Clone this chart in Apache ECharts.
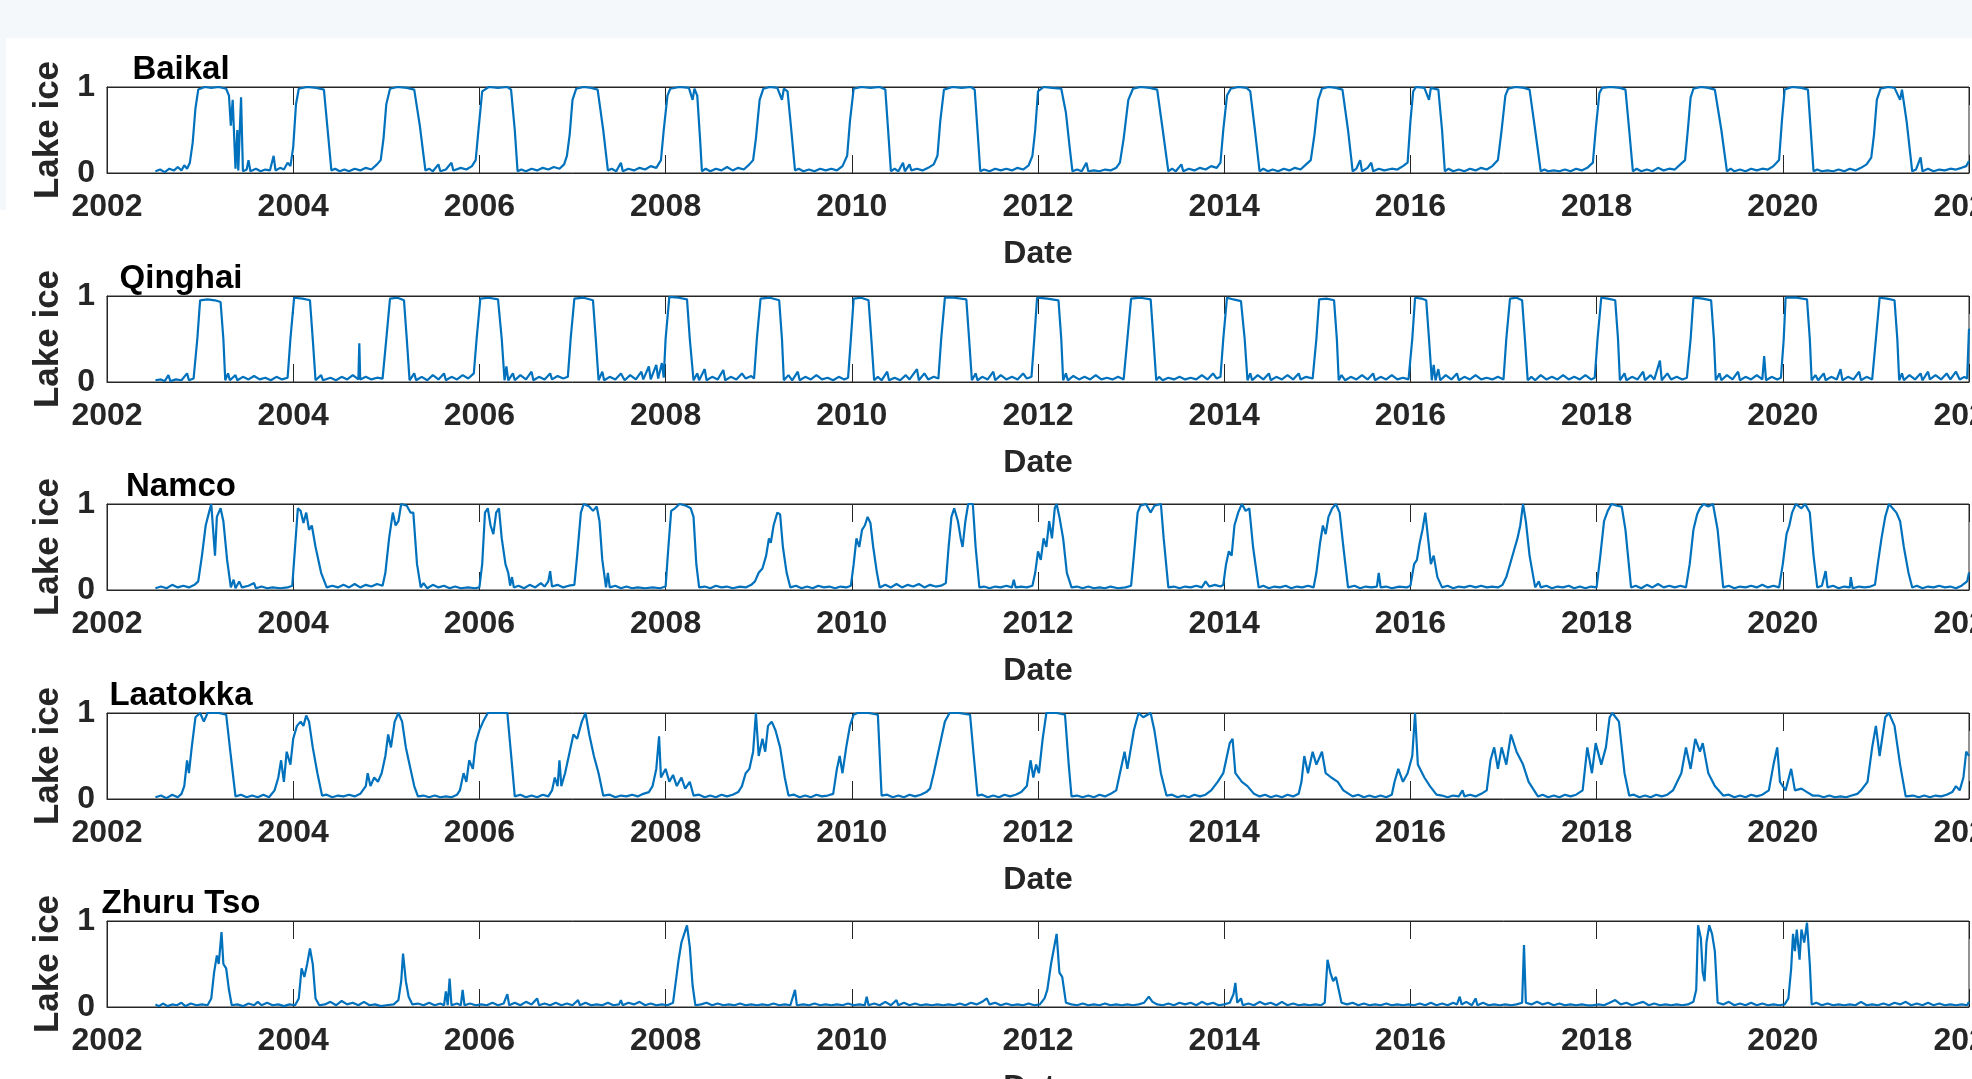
<!DOCTYPE html>
<html lang="en">
<head>
    <meta charset="UTF-8">
    <title>Lake ice</title>
    <script src="https://cdn.jsdelivr.net/npm/echarts@6/dist/echarts.min.js"></script>
    <style>
        html, body { margin: 0; padding: 0; background: #fff; }
        #lakes { width: 1972px; height: 1079px; }
    </style>
</head>
<body>
<div id="lakes"></div>
<script>
    // lake names, one panel each
    var lakeNames = ['Baikal', 'Qinghai', 'Namco', 'Laatokka', 'Zhuru Tso'];
    // x axis ticks (years)
    var yearMin = 2002, yearMax = 2022, yearStep = 2;

    // [decimal year, ice fraction]
    var baikal = [
        [2002.52,.02],[2002.57,.04],[2002.62,.01],[2002.67,.05],[2002.72,.03],[2002.76,.07],[2002.8,.03],[2002.83,.09],[2002.86,.05],[2002.89,.12],
        [2002.92,.35],[2002.95,.75],[2002.98,.97],[2003.05,1],[2003.12,.99],[2003.2,1],[2003.28,.98],[2003.31,.9],[2003.33,.55],[2003.35,.85],[2003.38,.05],[2003.4,.5],[2003.41,.03],[2003.44,.88],[2003.46,.02],
        [2003.5,.04],[2003.52,.15],[2003.54,.02],[2003.6,.05],[2003.65,.02],[2003.7,.04],[2003.75,.03],[2003.79,.2],[2003.81,.03],[2003.86,.06],[2003.9,.04],[2003.94,.12],[2003.97,.08],
        [2004.0,.3],[2004.03,.8],[2004.06,.98],[2004.15,1],[2004.25,.99],[2004.33,.97],[2004.37,.5],[2004.41,.03],
        [2004.45,.05],[2004.5,.02],[2004.55,.04],[2004.6,.02],[2004.66,.05],[2004.72,.03],[2004.78,.06],[2004.84,.04],[2004.9,.1],[2004.94,.15],
        [2004.97,.4],[2005.0,.8],[2005.04,.98],[2005.12,1],[2005.22,.99],[2005.3,.97],[2005.36,.55],[2005.42,.03],
        [2005.46,.05],[2005.5,.02],[2005.56,.1],[2005.58,.02],[2005.64,.04],[2005.7,.12],[2005.72,.03],[2005.8,.06],[2005.86,.04],[2005.92,.08],[2005.96,.15],
        [2005.99,.5],[2006.03,.95],[2006.1,1],[2006.2,.99],[2006.3,1],[2006.34,.97],[2006.38,.5],[2006.41,.02],
        [2006.45,.04],[2006.5,.02],[2006.56,.05],[2006.62,.03],[2006.68,.06],[2006.74,.04],[2006.8,.07],[2006.86,.05],[2006.91,.1],[2006.94,.2],
        [2006.97,.45],[2007.0,.85],[2007.04,.98],[2007.12,1],[2007.2,.99],[2007.27,.97],[2007.33,.5],[2007.38,.03],
        [2007.42,.05],[2007.47,.02],[2007.52,.12],[2007.54,.02],[2007.6,.05],[2007.66,.03],[2007.72,.06],[2007.78,.04],[2007.84,.08],[2007.9,.06],[2007.95,.15],
        [2007.98,.5],[2008.02,.9],[2008.05,.98],[2008.15,1],[2008.25,.99],[2008.29,.85],[2008.31,.98],[2008.34,.9],[2008.37,.4],[2008.39,.02],
        [2008.43,.05],[2008.48,.02],[2008.54,.05],[2008.6,.03],[2008.66,.07],[2008.72,.03],[2008.78,.06],[2008.84,.04],[2008.9,.1],[2008.94,.15],
        [2008.97,.4],[2009.01,.85],[2009.05,.98],[2009.12,1],[2009.2,.99],[2009.25,.85],[2009.27,.98],[2009.31,.95],[2009.35,.5],[2009.39,.03],
        [2009.43,.05],[2009.48,.02],[2009.54,.04],[2009.6,.02],[2009.66,.05],[2009.72,.03],[2009.78,.05],[2009.84,.03],[2009.9,.08],[2009.95,.2],
        [2009.98,.6],[2010.02,.98],[2010.1,1],[2010.2,.99],[2010.3,1],[2010.36,.97],[2010.39,.5],[2010.42,.02],
        [2010.46,.05],[2010.5,.02],[2010.55,.12],[2010.57,.02],[2010.62,.1],[2010.64,.03],[2010.7,.05],[2010.76,.03],[2010.82,.06],[2010.88,.1],[2010.92,.2],
        [2010.95,.6],[2010.99,.97],[2011.08,1],[2011.18,.99],[2011.28,1],[2011.32,.97],[2011.35,.5],[2011.38,.02],
        [2011.42,.04],[2011.48,.02],[2011.54,.05],[2011.6,.03],[2011.66,.05],[2011.72,.03],[2011.78,.06],[2011.84,.04],[2011.9,.09],[2011.94,.2],
        [2011.97,.5],[2012.0,.95],[2012.06,1],[2012.15,.99],[2012.25,.98],[2012.3,.7],[2012.34,.3],[2012.37,.02],
        [2012.42,.04],[2012.47,.02],[2012.52,.12],[2012.54,.02],[2012.6,.03],[2012.66,.02],[2012.72,.04],[2012.78,.03],[2012.84,.06],[2012.88,.12],
        [2012.92,.4],[2012.97,.85],[2013.02,.98],[2013.1,1],[2013.2,.99],[2013.28,.97],[2013.34,.5],[2013.4,.02],
        [2013.44,.05],[2013.48,.02],[2013.54,.1],[2013.56,.02],[2013.62,.05],[2013.68,.03],[2013.74,.06],[2013.8,.04],[2013.86,.08],[2013.92,.06],[2013.96,.12],
        [2013.99,.5],[2014.03,.9],[2014.07,.98],[2014.15,1],[2014.24,.99],[2014.28,.95],[2014.33,.5],[2014.38,.02],
        [2014.42,.05],[2014.47,.02],[2014.52,.04],[2014.58,.02],[2014.64,.05],[2014.7,.03],[2014.76,.06],[2014.82,.04],[2014.88,.1],[2014.93,.15],
        [2014.97,.45],[2015.01,.85],[2015.05,.98],[2015.12,1],[2015.2,.99],[2015.27,.97],[2015.33,.5],[2015.38,.02],
        [2015.42,.05],[2015.46,.15],[2015.48,.02],[2015.54,.06],[2015.58,.12],[2015.6,.02],[2015.66,.05],[2015.72,.03],[2015.8,.05],[2015.86,.04],[2015.92,.08],[2015.97,.12],
        [2016.0,.6],[2016.03,.95],[2016.06,1],[2016.15,.99],[2016.2,.85],[2016.22,.99],[2016.3,.97],[2016.34,.5],[2016.37,.02],
        [2016.41,.05],[2016.46,.02],[2016.52,.04],[2016.58,.02],[2016.64,.05],[2016.7,.03],[2016.76,.06],[2016.82,.04],[2016.88,.08],[2016.94,.15],
        [2016.98,.5],[2017.02,.9],[2017.05,.98],[2017.13,1],[2017.22,.99],[2017.28,.97],[2017.34,.5],[2017.4,.02],
        [2017.44,.04],[2017.48,.02],[2017.54,.03],[2017.6,.02],[2017.66,.04],[2017.72,.02],[2017.78,.05],[2017.84,.03],[2017.9,.06],[2017.96,.12],
        [2017.99,.5],[2018.03,.93],[2018.06,.99],[2018.15,1],[2018.25,.99],[2018.31,.97],[2018.35,.5],[2018.39,.02],
        [2018.43,.05],[2018.48,.02],[2018.54,.04],[2018.6,.02],[2018.66,.06],[2018.72,.03],[2018.78,.05],[2018.84,.04],[2018.9,.1],[2018.95,.15],
        [2018.98,.5],[2019.01,.88],[2019.04,.98],[2019.12,1],[2019.2,.99],[2019.27,.97],[2019.34,.5],[2019.4,.02],
        [2019.44,.05],[2019.48,.02],[2019.54,.04],[2019.6,.02],[2019.66,.05],[2019.72,.03],[2019.78,.05],[2019.84,.04],[2019.9,.08],[2019.96,.15],
        [2019.99,.6],[2020.02,.97],[2020.1,1],[2020.2,.99],[2020.27,.97],[2020.3,.5],[2020.33,.02],
        [2020.37,.04],[2020.42,.02],[2020.48,.03],[2020.54,.02],[2020.6,.04],[2020.66,.02],[2020.72,.05],[2020.78,.03],[2020.84,.06],[2020.9,.1],[2020.95,.18],
        [2020.98,.45],[2021.01,.85],[2021.05,.98],[2021.13,1],[2021.2,.99],[2021.26,.85],[2021.28,.97],[2021.33,.6],[2021.39,.02],
        [2021.43,.04],[2021.48,.18],[2021.5,.02],[2021.56,.05],[2021.62,.02],[2021.68,.04],[2021.74,.03],[2021.8,.05],[2021.86,.04],[2021.92,.06],[2021.97,.08],[2022.0,.14]
    ];
    var qinghai = [
        [2002.52,.02],[2002.58,.03],[2002.62,.01],[2002.66,.08],[2002.68,.01],[2002.74,.03],[2002.8,.02],[2002.86,.1],[2002.88,.02],[2002.93,.04],
        [2002.97,.5],[2003.0,.95],[2003.08,.96],[2003.16,.95],[2003.22,.93],[2003.25,.5],[2003.27,.02],
        [2003.3,.1],[2003.32,.02],[2003.38,.08],[2003.4,.02],[2003.46,.06],[2003.52,.03],[2003.58,.07],[2003.64,.03],[2003.7,.05],[2003.76,.02],[2003.82,.06],[2003.88,.03],[2003.94,.05],
        [2003.97,.5],[2004.01,.98],[2004.1,.97],[2004.18,.95],[2004.21,.5],[2004.24,.02],
        [2004.3,.08],[2004.32,.02],[2004.4,.05],[2004.46,.02],[2004.52,.06],[2004.58,.03],[2004.64,.08],[2004.7,.03],[2004.71,.45],[2004.72,.03],[2004.78,.06],[2004.84,.03],[2004.9,.05],[2004.96,.04],
        [2005.0,.5],[2005.04,.97],[2005.12,.98],[2005.19,.95],[2005.22,.5],[2005.25,.02],
        [2005.3,.1],[2005.32,.02],[2005.38,.06],[2005.44,.02],[2005.5,.08],[2005.56,.03],[2005.62,.1],[2005.64,.02],[2005.7,.06],[2005.76,.03],[2005.82,.08],[2005.88,.04],[2005.94,.1],
        [2005.97,.5],[2006.01,.97],[2006.1,.98],[2006.2,.96],[2006.24,.5],[2006.27,.02],
        [2006.29,.18],[2006.31,.02],[2006.36,.1],[2006.38,.02],[2006.44,.08],[2006.5,.03],[2006.56,.12],[2006.58,.02],[2006.64,.06],[2006.7,.03],[2006.76,.1],[2006.78,.03],[2006.84,.07],[2006.9,.04],[2006.95,.06],
        [2006.98,.5],[2007.02,.97],[2007.12,.98],[2007.22,.95],[2007.25,.5],[2007.28,.02],
        [2007.32,.12],[2007.34,.02],[2007.4,.06],[2007.46,.03],[2007.52,.1],[2007.56,.02],[2007.62,.08],[2007.68,.03],[2007.74,.12],[2007.76,.03],[2007.82,.18],[2007.84,.03],[2007.9,.2],[2007.92,.04],[2007.96,.22],[2007.98,.05],
        [2008.0,.5],[2008.04,.99],[2008.14,.98],[2008.23,.96],[2008.26,.5],[2008.3,.02],
        [2008.34,.1],[2008.36,.02],[2008.42,.15],[2008.44,.02],[2008.5,.06],[2008.56,.03],[2008.62,.14],[2008.64,.02],[2008.7,.06],[2008.76,.03],[2008.82,.1],[2008.86,.04],[2008.92,.07],[2008.95,.04],
        [2008.98,.5],[2009.02,.97],[2009.12,.98],[2009.22,.95],[2009.25,.5],[2009.27,.02],
        [2009.32,.08],[2009.36,.02],[2009.42,.12],[2009.44,.02],[2009.5,.06],[2009.56,.03],[2009.62,.08],[2009.68,.03],[2009.74,.05],[2009.8,.02],[2009.86,.06],[2009.92,.03],[2009.96,.05],
        [2009.99,.5],[2010.02,.97],[2010.1,.98],[2010.18,.95],[2010.21,.5],[2010.24,.02],
        [2010.28,.06],[2010.32,.02],[2010.38,.12],[2010.4,.02],[2010.46,.05],[2010.52,.02],[2010.58,.08],[2010.62,.03],[2010.7,.15],[2010.72,.02],[2010.78,.1],[2010.82,.03],[2010.88,.06],[2010.93,.04],
        [2010.96,.5],[2011.0,.98],[2011.1,.98],[2011.23,.96],[2011.26,.5],[2011.29,.02],
        [2011.33,.1],[2011.35,.02],[2011.4,.06],[2011.46,.03],[2011.52,.12],[2011.54,.02],[2011.6,.08],[2011.66,.03],[2011.72,.06],[2011.78,.03],[2011.84,.1],[2011.88,.04],[2011.93,.06],
        [2011.96,.5],[2011.99,.98],[2012.1,.97],[2012.22,.95],[2012.25,.5],[2012.27,.02],
        [2012.3,.1],[2012.32,.02],[2012.38,.07],[2012.44,.03],[2012.5,.06],[2012.56,.03],[2012.62,.08],[2012.68,.03],[2012.74,.05],[2012.8,.03],[2012.86,.06],[2012.92,.03],
        [2012.96,.5],[2013.0,.97],[2013.1,.98],[2013.21,.96],[2013.24,.5],[2013.27,.02],
        [2013.3,.06],[2013.34,.02],[2013.4,.05],[2013.46,.03],[2013.52,.06],[2013.58,.03],[2013.64,.05],[2013.7,.03],[2013.76,.08],[2013.82,.03],[2013.88,.1],[2013.92,.04],[2013.96,.06],
        [2013.99,.5],[2014.03,.98],[2014.1,.96],[2014.18,.94],[2014.22,.5],[2014.25,.02],
        [2014.28,.1],[2014.3,.02],[2014.36,.08],[2014.42,.03],[2014.48,.1],[2014.5,.02],[2014.56,.06],[2014.62,.03],[2014.68,.08],[2014.74,.03],[2014.8,.1],[2014.82,.03],[2014.88,.06],[2014.95,.04],
        [2014.99,.5],[2015.02,.96],[2015.1,.97],[2015.18,.95],[2015.21,.5],[2015.23,.02],
        [2015.26,.08],[2015.3,.02],[2015.36,.06],[2015.42,.03],[2015.48,.08],[2015.54,.03],[2015.6,.1],[2015.62,.02],[2015.68,.06],[2015.74,.03],[2015.8,.08],[2015.86,.03],[2015.92,.05],[2015.98,.03],
        [2016.02,.5],[2016.05,.98],[2016.12,.97],[2016.17,.95],[2016.2,.5],[2016.23,.02],
        [2016.25,.2],[2016.27,.02],[2016.3,.15],[2016.32,.02],[2016.38,.08],[2016.44,.03],[2016.5,.1],[2016.52,.02],[2016.58,.06],[2016.64,.03],[2016.7,.08],[2016.76,.03],[2016.82,.05],[2016.88,.03],[2016.94,.06],[2017.0,.03],
        [2017.03,.5],[2017.07,.97],[2017.14,.98],[2017.2,.95],[2017.23,.5],[2017.26,.02],
        [2017.3,.06],[2017.34,.02],[2017.4,.08],[2017.46,.03],[2017.52,.06],[2017.58,.03],[2017.64,.08],[2017.7,.03],[2017.76,.06],[2017.82,.03],[2017.88,.08],[2017.94,.03],[2017.98,.05],
        [2018.01,.5],[2018.05,.98],[2018.12,.97],[2018.2,.95],[2018.23,.5],[2018.25,.02],
        [2018.3,.1],[2018.32,.02],[2018.38,.06],[2018.44,.03],[2018.5,.12],[2018.52,.02],[2018.58,.08],[2018.62,.03],[2018.68,.25],[2018.7,.02],[2018.76,.1],[2018.8,.03],[2018.86,.06],[2018.92,.03],[2018.97,.05],
        [2019.01,.5],[2019.04,.98],[2019.14,.97],[2019.23,.95],[2019.26,.5],[2019.28,.02],
        [2019.32,.1],[2019.34,.02],[2019.4,.08],[2019.46,.03],[2019.52,.12],[2019.54,.02],[2019.6,.06],[2019.66,.03],[2019.72,.08],[2019.78,.03],[2019.8,.3],[2019.82,.02],[2019.88,.06],[2019.94,.03],[2019.98,.05],
        [2020.01,.5],[2020.03,.98],[2020.15,.98],[2020.26,.96],[2020.29,.5],[2020.31,.02],
        [2020.35,.08],[2020.38,.02],[2020.44,.1],[2020.46,.02],[2020.52,.06],[2020.58,.03],[2020.62,.15],[2020.64,.02],[2020.7,.06],[2020.76,.03],[2020.82,.12],[2020.84,.02],[2020.9,.06],[2020.96,.03],
        [2021.0,.5],[2021.04,.98],[2021.12,.97],[2021.2,.95],[2021.23,.5],[2021.25,.02],
        [2021.28,.1],[2021.3,.02],[2021.36,.08],[2021.42,.03],[2021.48,.1],[2021.5,.02],[2021.56,.12],[2021.58,.03],[2021.64,.08],[2021.7,.03],[2021.76,.1],[2021.8,.03],[2021.86,.12],[2021.9,.03],[2021.95,.06],[2021.98,.04],[2022.0,.62]
    ];
    var namco = [
        [2002.52,.02],[2002.58,.04],[2002.64,.02],[2002.7,.06],[2002.76,.03],[2002.82,.05],[2002.88,.03],[2002.94,.06],[2002.98,.1],
        [2003.02,.4],[2003.06,.75],[2003.1,.92],[2003.12,1],[2003.14,.7],[2003.16,.4],[2003.18,.85],[2003.22,.95],[2003.25,.8],[2003.29,.35],[2003.33,.03],
        [2003.36,.12],[2003.38,.02],[2003.42,.1],[2003.45,.03],[2003.52,.05],[2003.58,.08],[2003.6,.02],[2003.66,.04],[2003.72,.02],[2003.78,.03],[2003.86,.02],[2003.94,.03],[2003.99,.05],
        [2004.02,.5],[2004.05,.95],[2004.08,.92],[2004.11,.78],[2004.14,.9],[2004.17,.7],[2004.2,.75],[2004.24,.5],[2004.3,.2],[2004.36,.03],
        [2004.42,.05],[2004.48,.03],[2004.54,.06],[2004.6,.03],[2004.66,.07],[2004.72,.03],[2004.78,.06],[2004.84,.04],[2004.9,.07],[2004.96,.05],
        [2004.99,.2],[2005.03,.6],[2005.07,.9],[2005.1,.75],[2005.13,.8],[2005.16,1],[2005.22,.98],[2005.26,.9],[2005.29,.9],[2005.33,.3],[2005.37,.03],
        [2005.4,.08],[2005.44,.02],[2005.5,.06],[2005.56,.03],[2005.62,.05],[2005.68,.02],[2005.74,.04],[2005.8,.02],[2005.88,.03],[2005.95,.02],[2006.0,.03],
        [2006.03,.3],[2006.06,.9],[2006.09,.95],[2006.12,.75],[2006.15,.65],[2006.18,.9],[2006.21,.95],[2006.24,.6],[2006.28,.3],[2006.31,.2],[2006.33,.05],[2006.35,.15],[2006.37,.03],
        [2006.42,.05],[2006.48,.02],[2006.54,.06],[2006.6,.03],[2006.66,.08],[2006.7,.04],[2006.74,.1],[2006.76,.22],[2006.78,.04],[2006.84,.06],[2006.9,.03],[2006.96,.05],[2007.02,.06],
        [2007.05,.4],[2007.09,.9],[2007.12,1],[2007.18,.97],[2007.22,.92],[2007.26,.97],[2007.29,.8],[2007.32,.35],[2007.36,.03],
        [2007.38,.2],[2007.4,.03],[2007.46,.05],[2007.52,.02],[2007.58,.04],[2007.64,.02],[2007.7,.03],[2007.78,.02],[2007.86,.03],[2007.94,.02],[2008.0,.04],
        [2008.03,.5],[2008.06,.92],[2008.1,.95],[2008.15,1],[2008.22,.98],[2008.27,.95],[2008.3,.85],[2008.33,.3],[2008.36,.03],
        [2008.42,.04],[2008.48,.02],[2008.54,.05],[2008.6,.03],[2008.66,.04],[2008.72,.02],[2008.8,.04],[2008.86,.03],[2008.92,.06],
        [2008.96,.1],[2009.0,.2],[2009.04,.25],[2009.08,.4],[2009.11,.6],[2009.13,.55],[2009.16,.75],[2009.2,.9],[2009.23,.88],[2009.26,.5],[2009.3,.2],[2009.34,.03],
        [2009.4,.05],[2009.46,.02],[2009.52,.04],[2009.58,.02],[2009.64,.05],[2009.7,.03],[2009.76,.04],[2009.82,.02],[2009.88,.04],[2009.94,.03],[2009.99,.05],
        [2010.02,.3],[2010.05,.6],[2010.08,.5],[2010.11,.7],[2010.14,.75],[2010.17,.85],[2010.2,.78],[2010.23,.5],[2010.27,.2],[2010.3,.03],
        [2010.36,.06],[2010.42,.03],[2010.48,.07],[2010.54,.03],[2010.6,.06],[2010.66,.04],[2010.72,.07],[2010.78,.03],[2010.84,.06],[2010.9,.04],[2010.96,.05],[2011.01,.08],
        [2011.04,.5],[2011.07,.85],[2011.1,.95],[2011.14,.8],[2011.17,.6],[2011.19,.5],[2011.22,.8],[2011.25,1],[2011.3,1],[2011.33,.5],[2011.37,.03],
        [2011.42,.04],[2011.48,.02],[2011.54,.04],[2011.6,.03],[2011.66,.05],[2011.72,.03],[2011.74,.12],[2011.76,.03],[2011.82,.04],[2011.88,.03],[2011.94,.05],
        [2011.97,.2],[2012.0,.45],[2012.03,.35],[2012.06,.6],[2012.09,.5],[2012.12,.8],[2012.15,.6],[2012.18,.95],[2012.2,1],[2012.23,.85],[2012.27,.6],[2012.31,.2],[2012.36,.03],
        [2012.42,.04],[2012.48,.02],[2012.54,.04],[2012.6,.02],[2012.66,.03],[2012.72,.02],[2012.78,.04],[2012.86,.02],[2012.94,.03],[2013.0,.05],
        [2013.03,.4],[2013.07,.9],[2013.1,.98],[2013.16,1],[2013.21,.9],[2013.25,.98],[2013.32,1],[2013.35,.6],[2013.4,.03],
        [2013.46,.04],[2013.52,.02],[2013.58,.04],[2013.64,.03],[2013.7,.05],[2013.76,.03],[2013.8,.1],[2013.84,.04],[2013.9,.06],[2013.96,.04],[2013.99,.06],
        [2014.02,.3],[2014.05,.45],[2014.08,.4],[2014.11,.75],[2014.15,.9],[2014.19,1],[2014.23,.92],[2014.27,.95],[2014.31,.5],[2014.37,.03],
        [2014.42,.05],[2014.48,.02],[2014.54,.04],[2014.6,.03],[2014.66,.05],[2014.72,.02],[2014.78,.04],[2014.84,.03],[2014.9,.05],[2014.96,.03],
        [2014.99,.2],[2015.03,.55],[2015.06,.75],[2015.09,.65],[2015.12,.85],[2015.16,.95],[2015.2,1],[2015.24,.9],[2015.28,.5],[2015.33,.03],
        [2015.4,.05],[2015.46,.02],[2015.52,.04],[2015.58,.03],[2015.64,.04],[2015.66,.2],[2015.68,.03],[2015.74,.04],[2015.8,.02],[2015.88,.04],[2015.96,.03],
        [2016.0,.05],[2016.04,.3],[2016.07,.35],[2016.1,.55],[2016.13,.7],[2016.16,.9],[2016.19,.6],[2016.22,.3],[2016.25,.4],[2016.29,.15],[2016.34,.03],
        [2016.4,.05],[2016.46,.02],[2016.52,.04],[2016.58,.03],[2016.64,.05],[2016.7,.03],[2016.76,.05],[2016.82,.03],[2016.88,.04],[2016.94,.03],[2016.99,.06],
        [2017.03,.15],[2017.07,.3],[2017.11,.45],[2017.15,.6],[2017.18,.75],[2017.21,1],[2017.24,.8],[2017.28,.4],[2017.34,.03],
        [2017.38,.1],[2017.4,.03],[2017.46,.05],[2017.52,.02],[2017.58,.04],[2017.64,.03],[2017.7,.05],[2017.76,.02],[2017.82,.04],[2017.88,.02],[2017.94,.04],[2018.0,.03],
        [2018.04,.4],[2018.08,.8],[2018.12,.92],[2018.16,1],[2018.22,.98],[2018.27,.97],[2018.31,.7],[2018.37,.03],
        [2018.42,.05],[2018.48,.02],[2018.54,.06],[2018.6,.03],[2018.66,.07],[2018.72,.03],[2018.78,.05],[2018.84,.03],[2018.9,.05],[2018.96,.03],
        [2019.0,.3],[2019.04,.7],[2019.08,.88],[2019.11,.95],[2019.15,1],[2019.2,.97],[2019.25,1],[2019.3,.7],[2019.36,.03],
        [2019.42,.05],[2019.48,.02],[2019.54,.04],[2019.6,.03],[2019.66,.05],[2019.72,.03],[2019.78,.06],[2019.84,.03],[2019.9,.05],[2019.96,.03],
        [2020.0,.3],[2020.04,.65],[2020.07,.75],[2020.1,.9],[2020.14,1],[2020.2,.95],[2020.24,1],[2020.29,.9],[2020.33,.4],[2020.37,.03],
        [2020.42,.05],[2020.46,.22],[2020.48,.03],[2020.54,.05],[2020.6,.02],[2020.66,.04],[2020.72,.03],[2020.73,.15],[2020.75,.02],[2020.82,.04],[2020.88,.03],[2020.94,.04],[2020.99,.06],
        [2021.02,.3],[2021.06,.6],[2021.1,.85],[2021.14,1],[2021.18,.95],[2021.22,.9],[2021.26,.8],[2021.3,.5],[2021.35,.2],[2021.39,.03],
        [2021.44,.05],[2021.5,.02],[2021.56,.04],[2021.62,.03],[2021.68,.05],[2021.74,.03],[2021.8,.04],[2021.86,.02],[2021.92,.05],[2021.98,.1],[2022.0,.2]
    ];
    var laatokka = [
        [2002.52,.02],[2002.58,.04],[2002.64,.01],[2002.7,.05],[2002.76,.02],[2002.8,.06],
        [2002.83,.15],[2002.86,.45],[2002.88,.3],[2002.91,.6],[2002.95,.95],[2003.0,1],[2003.04,.9],[2003.08,1],[2003.2,1],[2003.28,.98],[2003.33,.5],[2003.38,.03],
        [2003.44,.05],[2003.5,.02],[2003.56,.04],[2003.62,.02],[2003.68,.05],[2003.74,.02],[2003.8,.1],[2003.84,.25],[2003.87,.45],[2003.9,.2],[2003.93,.55],[2003.97,.4],[2004.0,.7],
        [2004.04,.85],[2004.08,.9],[2004.11,.85],[2004.14,.97],[2004.17,.9],[2004.21,.6],[2004.26,.3],[2004.31,.04],
        [2004.36,.05],[2004.42,.02],[2004.48,.04],[2004.54,.03],[2004.6,.05],[2004.66,.03],[2004.72,.06],[2004.78,.15],[2004.8,.3],[2004.83,.15],[2004.87,.25],[2004.91,.2],[2004.95,.3],
        [2004.99,.5],[2005.02,.75],[2005.05,.6],[2005.09,.9],[2005.13,1],[2005.17,.9],[2005.21,.6],[2005.26,.35],[2005.3,.15],[2005.34,.03],
        [2005.4,.04],[2005.46,.02],[2005.52,.04],[2005.58,.02],[2005.64,.03],[2005.7,.02],[2005.76,.05],[2005.79,.1],[2005.83,.3],[2005.86,.2],[2005.89,.45],[2005.93,.35],[2005.96,.65],
        [2006.0,.8],[2006.04,.9],[2006.09,1],[2006.2,1],[2006.3,1],[2006.35,.4],[2006.38,.03],
        [2006.44,.05],[2006.5,.02],[2006.56,.04],[2006.62,.02],[2006.68,.05],[2006.74,.03],[2006.78,.1],[2006.81,.25],[2006.84,.15],[2006.86,.45],[2006.88,.15],[2006.92,.3],[2006.97,.55],
        [2007.01,.75],[2007.05,.7],[2007.1,.9],[2007.14,1],[2007.18,.75],[2007.23,.5],[2007.28,.3],[2007.33,.04],
        [2007.4,.05],[2007.46,.02],[2007.52,.04],[2007.58,.03],[2007.64,.05],[2007.7,.03],[2007.76,.06],[2007.82,.08],[2007.86,.15],[2007.9,.35],[2007.93,.73],[2007.95,.25],[2008.0,.35],
        [2008.04,.2],[2008.08,.28],[2008.12,.15],[2008.17,.25],[2008.21,.12],[2008.26,.2],[2008.3,.04],
        [2008.36,.05],[2008.42,.02],[2008.48,.04],[2008.54,.02],[2008.6,.05],[2008.66,.03],[2008.72,.05],[2008.78,.08],[2008.82,.15],[2008.86,.3],[2008.9,.35],[2008.94,.55],[2008.97,1],[2009.0,.5],
        [2009.04,.7],[2009.07,.55],[2009.1,.85],[2009.14,.9],[2009.18,.8],[2009.23,.6],[2009.28,.25],[2009.32,.04],
        [2009.38,.05],[2009.44,.02],[2009.5,.04],[2009.56,.02],[2009.62,.05],[2009.68,.03],[2009.74,.04],[2009.8,.06],[2009.84,.35],[2009.87,.5],[2009.9,.3],[2009.94,.6],[2009.98,.85],
        [2010.02,.98],[2010.06,1],[2010.18,1],[2010.28,.98],[2010.32,.04],
        [2010.38,.05],[2010.44,.02],[2010.5,.04],[2010.56,.02],[2010.62,.05],[2010.68,.03],[2010.74,.05],[2010.8,.08],[2010.84,.12],[2010.88,.3],[2010.92,.5],[2010.96,.7],
        [2011.0,.9],[2011.05,1],[2011.15,1],[2011.27,.98],[2011.31,.5],[2011.35,.04],
        [2011.4,.05],[2011.46,.02],[2011.52,.04],[2011.58,.02],[2011.64,.05],[2011.7,.03],[2011.76,.05],[2011.82,.08],[2011.88,.15],[2011.92,.45],[2011.95,.25],[2011.98,.4],
        [2012.01,.3],[2012.05,.7],[2012.09,1],[2012.2,1],[2012.29,.98],[2012.33,.4],[2012.36,.03],
        [2012.42,.04],[2012.48,.02],[2012.54,.04],[2012.6,.02],[2012.66,.05],[2012.72,.03],[2012.78,.06],[2012.84,.1],[2012.89,.35],[2012.93,.55],[2012.96,.35],[2013.03,.8],
        [2013.08,1],[2013.13,.95],[2013.21,1],[2013.25,.8],[2013.32,.3],[2013.38,.04],
        [2013.44,.05],[2013.5,.02],[2013.56,.04],[2013.62,.02],[2013.68,.05],[2013.74,.03],[2013.8,.05],[2013.86,.1],[2013.93,.2],[2013.99,.3],
        [2014.06,.65],[2014.09,.7],[2014.12,.3],[2014.19,.2],[2014.25,.15],[2014.32,.06],[2014.38,.03],
        [2014.44,.05],[2014.5,.02],[2014.56,.04],[2014.62,.02],[2014.68,.05],[2014.74,.03],[2014.8,.06],[2014.83,.2],[2014.86,.5],[2014.9,.3],[2014.95,.55],[2014.99,.4],
        [2015.05,.55],[2015.09,.3],[2015.15,.25],[2015.22,.2],[2015.28,.1],[2015.38,.03],
        [2015.44,.05],[2015.5,.02],[2015.56,.04],[2015.62,.02],[2015.68,.04],[2015.74,.02],[2015.8,.05],[2015.83,.2],[2015.87,.35],[2015.92,.2],[2015.97,.3],[2016.02,.5],
        [2016.05,1],[2016.08,.4],[2016.15,.25],[2016.21,.15],[2016.28,.05],
        [2016.34,.04],[2016.4,.02],[2016.46,.04],[2016.52,.03],[2016.56,.1],[2016.58,.03],[2016.64,.05],[2016.7,.03],[2016.76,.06],[2016.82,.1],[2016.86,.45],[2016.9,.6],[2016.94,.35],[2016.98,.6],
        [2017.03,.4],[2017.08,.75],[2017.14,.55],[2017.21,.4],[2017.27,.2],[2017.37,.03],
        [2017.42,.05],[2017.48,.02],[2017.54,.04],[2017.6,.02],[2017.66,.05],[2017.72,.03],[2017.78,.05],[2017.85,.1],[2017.9,.6],[2017.95,.3],[2017.99,.65],
        [2018.05,.4],[2018.1,.6],[2018.14,.95],[2018.17,1],[2018.24,.9],[2018.3,.3],[2018.35,.04],
        [2018.4,.05],[2018.46,.02],[2018.52,.04],[2018.58,.02],[2018.64,.05],[2018.7,.03],[2018.76,.05],[2018.82,.1],[2018.91,.3],[2018.96,.6],[2019.01,.35],
        [2019.06,.7],[2019.11,.55],[2019.14,.65],[2019.2,.3],[2019.27,.15],[2019.36,.04],
        [2019.42,.05],[2019.48,.02],[2019.54,.04],[2019.6,.02],[2019.66,.05],[2019.72,.03],[2019.78,.05],[2019.85,.1],[2019.9,.4],[2019.94,.6],[2019.97,.2],
        [2020.03,.1],[2020.09,.35],[2020.13,.1],[2020.2,.12],[2020.26,.08],[2020.32,.04],
        [2020.38,.04],[2020.44,.02],[2020.5,.04],[2020.56,.02],[2020.62,.03],[2020.68,.02],[2020.74,.04],[2020.8,.06],[2020.84,.1],[2020.91,.2],[2020.96,.6],
        [2021.0,.85],[2021.04,.5],[2021.1,.95],[2021.14,1],[2021.2,.85],[2021.26,.4],[2021.32,.03],
        [2021.4,.04],[2021.46,.02],[2021.52,.04],[2021.58,.02],[2021.64,.04],[2021.7,.03],[2021.76,.05],[2021.82,.08],[2021.86,.15],[2021.9,.1],[2021.94,.25],[2021.97,.55],[2022.0,.5]
    ];
    var zhuruTso = [
        [2002.52,.03],[2002.56,.01],[2002.6,.04],[2002.65,.01],[2002.7,.03],[2002.75,.02],[2002.8,.05],[2002.84,.01],[2002.9,.04],[2002.96,.02],[2003.02,.03],[2003.08,.02],
        [2003.12,.1],[2003.15,.4],[2003.18,.6],[2003.2,.5],[2003.23,.87],[2003.25,.5],[2003.28,.45],[2003.31,.2],[2003.34,.02],
        [2003.4,.03],[2003.46,.01],[2003.52,.04],[2003.58,.02],[2003.62,.06],[2003.66,.02],[2003.72,.05],[2003.78,.02],[2003.84,.03],[2003.9,.01],[2003.96,.03],[2004.02,.02],
        [2004.06,.1],[2004.09,.45],[2004.12,.35],[2004.15,.5],[2004.18,.68],[2004.21,.5],[2004.24,.1],[2004.28,.02],
        [2004.34,.03],[2004.4,.06],[2004.46,.02],[2004.52,.07],[2004.58,.03],[2004.64,.05],[2004.7,.02],[2004.76,.06],[2004.82,.02],[2004.88,.03],[2004.94,.01],[2005.0,.02],[2005.08,.03],
        [2005.13,.08],[2005.16,.3],[2005.18,.62],[2005.21,.3],[2005.24,.12],[2005.28,.03],
        [2005.34,.04],[2005.4,.02],[2005.46,.05],[2005.52,.02],[2005.58,.04],[2005.62,.02],[2005.64,.18],[2005.66,.02],[2005.68,.33],[2005.7,.02],[2005.76,.04],[2005.8,.02],[2005.82,.2],[2005.84,.02],[2005.9,.04],[2005.96,.02],
        [2006.02,.03],[2006.08,.02],[2006.14,.05],[2006.2,.02],[2006.26,.04],[2006.3,.15],[2006.32,.02],[2006.38,.05],[2006.44,.02],[2006.5,.06],[2006.56,.03],[2006.62,.1],[2006.64,.02],[2006.7,.04],[2006.76,.02],[2006.82,.05],[2006.88,.02],[2006.94,.04],
        [2007.0,.02],[2007.06,.08],[2007.08,.02],[2007.14,.05],[2007.2,.02],[2007.26,.03],[2007.32,.02],[2007.38,.05],[2007.44,.02],[2007.5,.03],[2007.52,.08],[2007.54,.02],[2007.6,.05],[2007.66,.03],[2007.72,.06],[2007.78,.02],[2007.84,.04],[2007.9,.02],[2007.96,.03],[2008.02,.02],
        [2008.08,.05],[2008.11,.3],[2008.14,.55],[2008.17,.75],[2008.2,.85],[2008.23,.95],[2008.26,.7],[2008.29,.25],[2008.32,.02],
        [2008.38,.03],[2008.44,.05],[2008.5,.02],[2008.56,.04],[2008.62,.02],[2008.68,.03],[2008.74,.02],[2008.8,.04],[2008.86,.02],[2008.92,.03],[2008.98,.02],
        [2009.04,.03],[2009.1,.02],[2009.16,.04],[2009.22,.02],[2009.28,.03],[2009.34,.02],[2009.39,.2],[2009.41,.02],[2009.48,.03],[2009.54,.02],[2009.6,.04],[2009.66,.02],[2009.72,.03],[2009.78,.02],[2009.84,.03],[2009.9,.02],[2009.96,.04],
        [2010.02,.02],[2010.08,.03],[2010.14,.02],[2010.16,.12],[2010.18,.02],[2010.24,.04],[2010.3,.02],[2010.36,.06],[2010.42,.02],[2010.48,.08],[2010.5,.02],[2010.56,.05],[2010.62,.02],[2010.68,.04],[2010.74,.02],[2010.8,.03],[2010.86,.02],[2010.92,.03],[2010.98,.02],
        [2011.04,.03],[2011.1,.02],[2011.16,.04],[2011.22,.02],[2011.28,.05],[2011.34,.03],[2011.4,.06],[2011.45,.1],[2011.48,.03],[2011.54,.05],[2011.6,.02],[2011.66,.04],[2011.72,.02],[2011.78,.03],[2011.84,.02],[2011.9,.04],[2011.96,.02],[2012.02,.03],
        [2012.07,.1],[2012.1,.2],[2012.14,.5],[2012.2,.85],[2012.23,.4],[2012.26,.35],[2012.3,.05],
        [2012.36,.03],[2012.42,.02],[2012.48,.04],[2012.54,.02],[2012.6,.03],[2012.66,.02],[2012.72,.04],[2012.78,.02],[2012.84,.03],[2012.9,.02],[2012.96,.03],
        [2013.02,.02],[2013.08,.03],[2013.14,.05],[2013.19,.12],[2013.23,.06],[2013.28,.03],[2013.34,.02],[2013.4,.04],[2013.46,.02],[2013.52,.05],[2013.58,.03],[2013.64,.05],[2013.7,.02],[2013.76,.06],[2013.82,.03],[2013.88,.05],[2013.94,.02],
        [2014.0,.03],[2014.06,.05],[2014.1,.15],[2014.12,.28],[2014.14,.05],[2014.18,.1],[2014.2,.02],[2014.26,.04],[2014.32,.02],[2014.38,.06],[2014.44,.03],[2014.5,.05],[2014.56,.02],[2014.62,.06],[2014.68,.02],[2014.74,.04],[2014.8,.02],[2014.86,.03],[2014.92,.02],[2014.98,.03],
        [2015.04,.02],[2015.08,.05],[2015.11,.55],[2015.14,.4],[2015.17,.3],[2015.2,.35],[2015.23,.2],[2015.26,.05],
        [2015.32,.03],[2015.38,.05],[2015.44,.02],[2015.5,.04],[2015.56,.02],[2015.62,.03],[2015.68,.02],[2015.74,.04],[2015.8,.02],[2015.86,.03],[2015.92,.02],[2015.98,.03],
        [2016.04,.02],[2016.1,.04],[2016.16,.02],[2016.22,.05],[2016.28,.02],[2016.34,.04],[2016.4,.02],[2016.46,.05],[2016.5,.03],[2016.53,.12],[2016.55,.03],[2016.6,.06],[2016.66,.02],[2016.7,.1],[2016.72,.02],[2016.78,.05],[2016.84,.02],[2016.9,.03],[2016.96,.02],
        [2017.02,.03],[2017.08,.02],[2017.14,.03],[2017.2,.05],[2017.22,.72],[2017.24,.05],[2017.3,.03],[2017.36,.06],[2017.42,.03],[2017.48,.05],[2017.54,.02],[2017.6,.04],[2017.66,.02],[2017.72,.03],[2017.78,.02],[2017.84,.03],[2017.9,.02],[2017.96,.02],
        [2018.02,.03],[2018.08,.02],[2018.14,.05],[2018.2,.08],[2018.26,.03],[2018.32,.05],[2018.38,.02],[2018.44,.04],[2018.5,.06],[2018.56,.02],[2018.62,.04],[2018.68,.02],[2018.74,.03],[2018.8,.02],[2018.86,.03],[2018.92,.02],[2018.98,.03],[2019.04,.06],
        [2019.07,.2],[2019.09,.95],[2019.12,.8],[2019.14,.4],[2019.16,.3],[2019.18,.75],[2019.21,.95],[2019.24,.85],[2019.27,.65],[2019.3,.05],
        [2019.36,.03],[2019.42,.06],[2019.48,.02],[2019.54,.04],[2019.6,.02],[2019.66,.05],[2019.72,.02],[2019.78,.04],[2019.84,.02],[2019.9,.03],[2019.96,.02],[2020.02,.03],
        [2020.06,.1],[2020.09,.45],[2020.11,.85],[2020.13,.65],[2020.15,.9],[2020.18,.55],[2020.2,.9],[2020.23,.75],[2020.26,.98],[2020.29,.5],[2020.31,.03],
        [2020.36,.05],[2020.42,.02],[2020.48,.04],[2020.54,.02],[2020.6,.03],[2020.66,.02],[2020.72,.03],[2020.78,.02],[2020.84,.06],[2020.9,.02],[2020.96,.03],
        [2021.02,.02],[2021.08,.04],[2021.14,.02],[2021.2,.05],[2021.26,.03],[2021.32,.06],[2021.38,.02],[2021.44,.04],[2021.5,.02],[2021.56,.05],[2021.62,.02],[2021.68,.04],[2021.74,.02],[2021.8,.03],[2021.86,.02],[2021.92,.03],[2021.98,.02],[2022.0,.06]
    ];
    var lakeSeries = [baikal, qinghai, namco, laatokka, zhuruTso];

    var chart = echarts.init(document.getElementById('lakes'), null, {renderer: 'canvas'});

    var font = 'Liberation Sans, Arial, Helvetica, sans-serif';
    var ink = '#262626';
    var panelTop = [87, 296, 504, 713, 921];
    var panelH = 86;
    var plotLeft = 107, plotRight = 3;

    var grids = [], xAxes = [], yAxes = [], series = [], titles = [];
    for (var i = 0; i < lakeNames.length; i++) {
        grids.push({
            left: plotLeft, right: plotRight, top: panelTop[i], height: panelH,
            outerBoundsMode: 'none', containLabel: false,
            show: true, borderColor: ink, borderWidth: 1, backgroundColor: '#fff'
        });
        // bottom axis with labels
        xAxes.push({
            type: 'value', gridIndex: i, position: 'bottom',
            min: yearMin, max: yearMax, interval: yearStep,
            axisLine: {show: true, onZero: false, lineStyle: {color: ink, width: 1}},
            axisTick: {show: true, inside: true, length: 18, lineStyle: {color: ink, width: 1}},
            axisLabel: {
                show: true, margin: 18, color: ink, fontSize: 32, fontWeight: 'bold', fontFamily: font,
                showMinLabel: true, showMaxLabel: true, hideOverlap: false,
                formatter: function (v) { return String(v); }
            },
            splitLine: {show: false},
            name: 'Date', nameLocation: 'middle', nameGap: 65,
            nameTextStyle: {color: ink, fontSize: 32, fontWeight: 'bold', fontFamily: font}
        });
        // top axis, ticks only (box style)
        xAxes.push({
            type: 'value', gridIndex: i, position: 'top',
            min: yearMin, max: yearMax, interval: yearStep,
            axisLine: {show: true, onZero: false, lineStyle: {color: ink, width: 1}},
            axisTick: {show: true, inside: true, length: 18, lineStyle: {color: ink, width: 1}},
            axisLabel: {show: false},
            splitLine: {show: false}
        });
        yAxes.push({
            type: 'value', gridIndex: i, min: 0, max: 1, interval: 1,
            axisLine: {show: true, lineStyle: {color: ink, width: 1}},
            axisTick: {show: false},
            axisLabel: {margin: 12, color: ink, fontSize: 32, fontWeight: 'bold', fontFamily: font},
            splitLine: {show: false},
            name: 'Lake ice', nameLocation: 'middle', nameGap: 35,
            nameTextStyle: {color: ink, fontSize: 35, fontWeight: 'bold', fontFamily: font}
        });
        series.push({
            name: lakeNames[i], type: 'line',
            xAxisIndex: i * 2, yAxisIndex: i,
            data: lakeSeries[i],
            showSymbol: false, symbol: 'none',
            lineStyle: {color: '#0072BD', width: 2.2},
            clip: true
        });
        titles.push({
            text: lakeNames[i], left: 176, top: panelTop[i] - 39, textAlign: 'center',
            textStyle: {color: '#000', fontSize: 33, fontWeight: 'bold', fontFamily: font}
        });
    }

    var option = {
        animation: false,
        backgroundColor: '#ffffff',
        title: titles,
        grid: grids,
        xAxis: xAxes,
        yAxis: yAxes,
        series: series,
        graphic: [
            {type: 'rect', z: -10, shape: {x: 0, y: 0, width: 1972, height: 38}, style: {fill: '#f5f8fb'}},
            {type: 'rect', z: -10, shape: {x: 0, y: 38, width: 6, height: 172}, style: {fill: '#f5f8fb'}}
        ]
    };
    chart.setOption(option);
</script>
</body>
</html>
